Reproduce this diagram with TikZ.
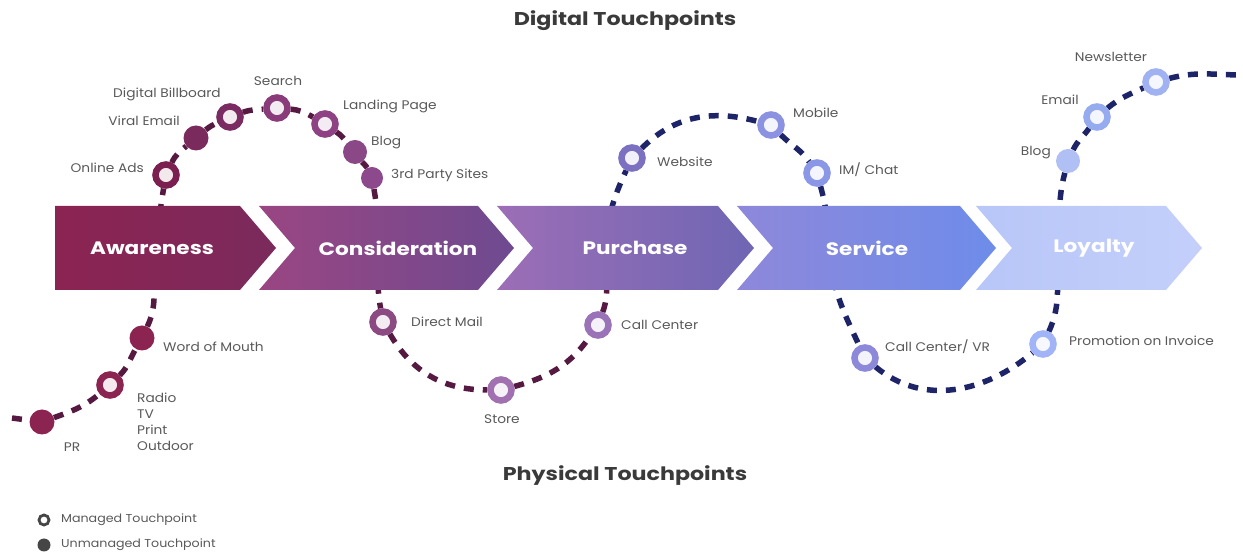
\documentclass[tikz,border=0pt]{standalone}
\usepackage{fontspec}
\setmainfont{Poppins}
\newfontfamily\tpfont{Poppins}[FakeStretch=1.1]
\newfontfamily\headfont{Poppins}[FakeStretch=1.2]
\usetikzlibrary{calc}

% palette
\definecolor{crim}{HTML}{561A42}
\definecolor{navy}{HTML}{1E2468}
\definecolor{labelgray}{HTML}{595959}
\definecolor{titlegray}{HTML}{3A3A3A}
\definecolor{leg}{HTML}{464646}
\definecolor{awa}{HTML}{8C2452}\definecolor{awb}{HTML}{7A2A5C}
\definecolor{coa}{HTML}{9A4682}\definecolor{cob}{HTML}{6E4A90}
\definecolor{pua}{HTML}{9C6EB6}\definecolor{pub}{HTML}{6F66B4}
\definecolor{sea}{HTML}{8E88DA}\definecolor{seb}{HTML}{6E8CEA}
\definecolor{loa}{HTML}{B8C6F8}\definecolor{lob}{HTML}{C4D0FA}
% touchpoint colours
\definecolor{tpads}{HTML}{7A1F4F}
\definecolor{tpbill}{HTML}{7A2C62}
\definecolor{tpsearch}{HTML}{8A3C7A}
\definecolor{tpland}{HTML}{8E4283}
\definecolor{tpbloga}{HTML}{8A4886}
\definecolor{tpthird}{HTML}{8C4A8C}
\definecolor{tpmail}{HTML}{8C4A82}
\definecolor{tpstore}{HTML}{A070B0}
\definecolor{tpcall}{HTML}{9A72B8}
\definecolor{tpweb}{HTML}{7C70C0}
\definecolor{tpmob}{HTML}{8C92E2}
\definecolor{tpchat}{HTML}{8A96E6}
\definecolor{tpvr}{HTML}{8C88DA}
\definecolor{tppromo}{HTML}{A2B4F8}
\definecolor{tpblogb}{HTML}{B0C0F5}
\definecolor{tpemail}{HTML}{96AAF0}
\definecolor{tpnews}{HTML}{A0B2F2}

\pgfdeclarelayer{bg}
\pgfsetlayers{bg,main}

\begin{document}
\begin{tikzpicture}[x=1pt, y=1pt,
    ring/.style={circle, draw=#1, line width=6.5pt, fill=#1!10!white, minimum size=21pt, inner sep=0pt},
    dot/.style={circle, fill=#1, minimum size=25pt, inner sep=0pt},
    lbl/.style={font=\tpfont\fontsize{12.5}{16}\selectfont, text=labelgray, inner sep=1pt},
    stage/.style={font=\headfont\fontsize{18}{20}\selectfont\bfseries, text=white},
    title/.style={font=\headfont\fontsize{18.5}{20}\selectfont\bfseries, text=titlegray},
    trail/.style={draw=#1, line width=5.5pt, dash pattern=on 10pt off 9pt}]

    \useasboundingbox (0,0) rectangle (1243,554);

    % Stages
    \shade[left color=awa, right color=awb] (55,264) -- (55,348) -- (240,348) -- (276,306) -- (240,264) -- cycle;
    \foreach \xa/\xs/\ca/\cb in {259/478/coa/cob, 497/718/pua/pub, 737/960/sea/seb, 976/1166/loa/lob} {
        \shade[left color=\ca, right color=\cb] (\xa,264) -- (\xa+36,306) -- (\xa,348) -- (\xs,348) -- (\xs+36,306) -- (\xs,264) -- cycle;
    }
    \node[stage] (awareness) at (152,306) {Awareness};
    \node[stage] (consideration) at (398,306) {Consideration};
    \node[stage] (purchase) at (635,306) {Purchase};
    \node[stage] (service) at (867,306) {Service};
    \node[stage] (loyalty) at (1094,306) {Loyalty};

    \node[title] (digital) at (625,533) {Digital Touchpoints};
    \node[title] (physical) at (625,78) {Physical Touchpoints};

    % Touchpoints
    \node[dot=awa] (pr) at (42,132) {};
    \node[ring=awa] (radio) at (110,169) {};
    \node[dot=awa] (wom) at (142,216) {};
    \node[ring=tpads] (ads) at (166,379) {};
    \node[dot=awb] (viral) at (196,416) {};
    \node[ring=tpbill] (billboard) at (230,437) {};
    \node[ring=tpsearch] (search) at (277,446) {};
    \node[ring=tpland] (landing) at (325,430) {};
    \node[dot=tpbloga, minimum size=24pt] (blogA) at (355,402) {};
    \node[dot=tpthird, minimum size=22pt] (thirdparty) at (372,376) {};
    \node[ring=tpmail] (directmail) at (383,232) {};
    \node[ring=tpstore] (store) at (501,164) {};
    \node[ring=tpcall] (callcenter) at (598,229) {};
    \node[ring=tpweb] (website) at (632,396) {};
    \node[ring=tpmob] (mobile) at (771,429) {};
    \node[ring=tpchat] (chat) at (817,381) {};
    \node[ring=tpvr] (callvr) at (865,196) {};
    \node[ring=tppromo] (promo) at (1043,210) {};
    \node[dot=tpblogb, minimum size=24pt] (blogB) at (1068,393) {};
    \node[ring=tpemail] (email) at (1097,437) {};
    \node[ring=tpnews] (newsletter) at (1156,472) {};

    % Labels
    \node[lbl] (prl) at (72,107) {PR};
    \node[lbl, anchor=north west, align=left] (radiol) at (136,162) {Radio\\TV\\Print\\Outdoor};
    \node[lbl, anchor=west] (woml) at (162,207) {Word of Mouth};
    \node[lbl, anchor=east] (adsl) at (145,386) {Online Ads};
    \node[lbl, anchor=east] (virall) at (181,433) {Viral Email};
    \node[lbl] (billboardl) at (167,460) {Digital Billboard};
    \node[lbl] (searchl) at (278,473) {Search};
    \node[lbl, anchor=west] (landingl) at (342,448) {Landing Page};
    \node[lbl, anchor=west] (blogAl) at (370,411) {Blog};
    \node[lbl, anchor=west] (thirdpartyl) at (390,379) {3rd Party Sites};
    \node[lbl, anchor=west] (directmaill) at (410,232) {Direct Mail};
    \node[lbl] (storel) at (502,135) {Store};
    \node[lbl, anchor=west] (callcenterl) at (620,229) {Call Center};
    \node[lbl, anchor=west] (websitel) at (656,392) {Website};
    \node[lbl, anchor=west] (mobilel) at (792,441) {Mobile};
    \node[lbl, anchor=west] (chatl) at (838,384) {IM/ Chat};
    \node[lbl, anchor=west] (callvrl) at (884,207) {Call Center/ VR};
    \node[lbl, anchor=west] (promol) at (1068,213) {Promotion on Invoice};
    \node[lbl, anchor=east] (blogBl) at (1052,401) {Blog};
    \node[lbl] (emaill) at (1060,454) {Email};
    \node[lbl] (newsletterl) at (1111,497) {Newsletter};

    % Legend
    \node[circle, draw=leg, line width=2.8pt, fill=white, minimum size=10pt, inner sep=0pt] (managed) at (44,34) {};
    \node[circle, fill=leg, minimum size=13pt, inner sep=0pt] (unmanaged) at (44,9) {};
    \node[lbl, font=\tpfont\fontsize{11.5}{12}\selectfont, anchor=west] (managedl) at (60,34) {Managed Touchpoint};
    \node[lbl, font=\tpfont\fontsize{11.5}{12}\selectfont, anchor=west] (unmanagedl) at (60,9) {Unmanaged Touchpoint};

    % Journey trail (behind the stages)
    \coordinate (start) at (12,136);
    \coordinate (x1) at (155,306);
    \coordinate (x2) at (378,306);
    \coordinate (x3) at (605,306);
    \coordinate (x4) at (830,306);
    \coordinate (x5) at (1058,306);
    \coordinate (end) at (1243,479);
    \begin{pgfonlayer}{bg}
        \draw[trail=crim] (start) -- (pr) to[out=20,in=220] (radio) to[out=45,in=240] (wom)
            to[out=65,in=260] (x1) to[out=80,in=260] (ads) to[out=65,in=220] (viral)
            to[out=40,in=205] (billboard) to[out=20,in=185] (search) to[out=-5,in=150] (landing)
            to[out=-35,in=130] (blogA) to[out=-55,in=115] (thirdparty) to[out=-80,in=90] (x2)
            to[out=-90,in=100] (directmail) to[out=-60,in=180] (store) to[out=15,in=235] (callcenter)
            to[out=70,in=265] (x3);
        \draw[trail=navy] (x3) to[out=85,in=245] (website) to[out=45,in=165] (mobile)
            to[out=-45,in=125] (chat) to[out=-75,in=95] (x4) to[out=-88,in=115] (callvr)
            to[out=-40,in=220] (promo) to[out=65,in=265] (x5) to[out=85,in=255] (blogB)
            to[out=65,in=235] (email) to[out=40,in=205] (newsletter) to[out=15,in=180] (end);
    \end{pgfonlayer}
\end{tikzpicture}
\end{document}
